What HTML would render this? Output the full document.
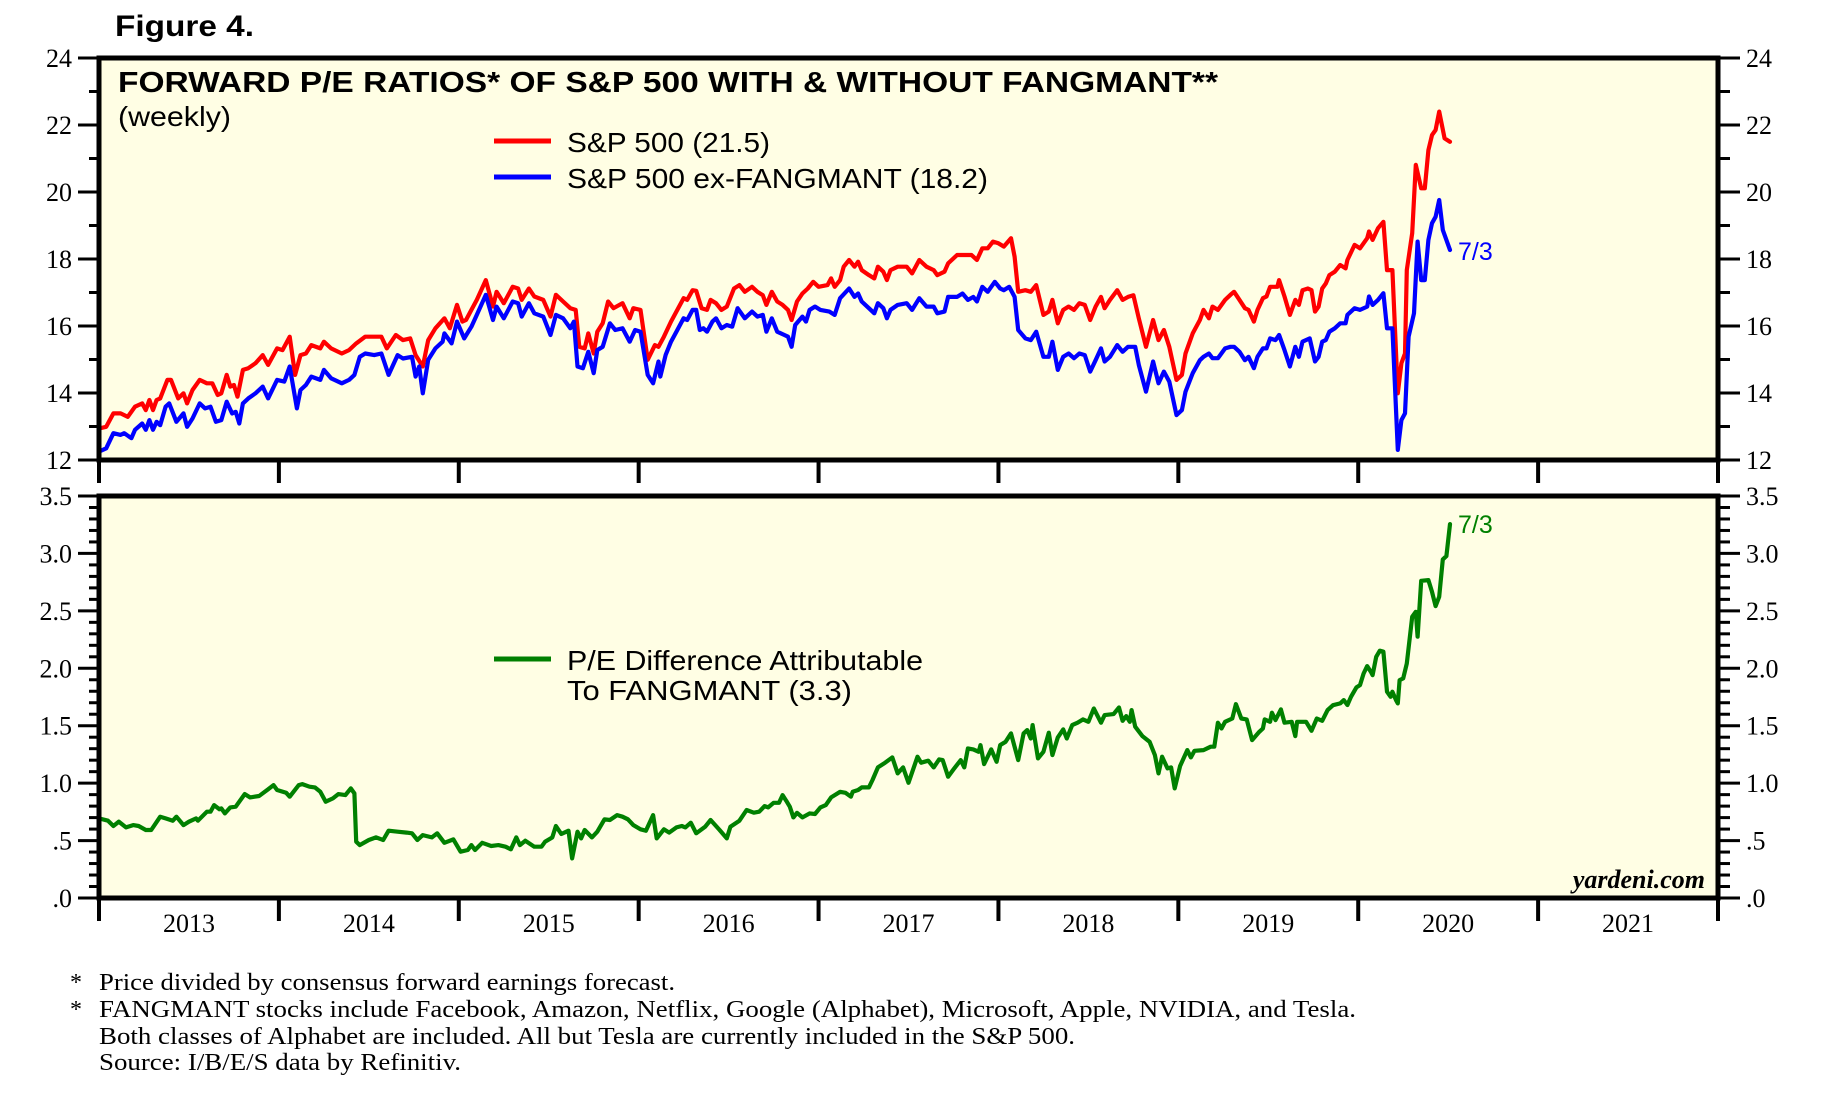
<!DOCTYPE html>
<html><head><meta charset="utf-8"><style>
html,body{margin:0;padding:0;background:#fff;}
svg{display:block;}
</style></head><body>
<svg id="chart" width="1822" height="1096" viewBox="0 0 1822 1096" xmlns="http://www.w3.org/2000/svg">
<text x="115" y="36" font-family="Liberation Sans, sans-serif" font-weight="bold" font-size="30" textLength="139" lengthAdjust="spacingAndGlyphs">Figure 4.</text>
<rect x="99" y="58" width="1619" height="402" fill="#FFFEE4"/>
<rect x="99" y="496" width="1619" height="402" fill="#FFFEE4"/>
<text x="118" y="92" font-family="Liberation Sans, sans-serif" font-weight="bold" font-size="29" textLength="1100" lengthAdjust="spacingAndGlyphs">FORWARD P/E RATIOS* OF S&amp;P 500 WITH &amp; WITHOUT FANGMANT**</text>
<text x="118" y="126" font-family="Liberation Sans, sans-serif" font-size="28" textLength="113" lengthAdjust="spacingAndGlyphs">(weekly)</text>
<line x1="494" y1="141" x2="551" y2="141" stroke="#FF0000" stroke-width="5"/>
<text x="567" y="152" font-family="Liberation Sans, sans-serif" font-size="28" textLength="203" lengthAdjust="spacingAndGlyphs">S&amp;P 500 (21.5)</text>
<line x1="494" y1="177" x2="551" y2="177" stroke="#0000FF" stroke-width="5"/>
<text x="567" y="188" font-family="Liberation Sans, sans-serif" font-size="28" textLength="421" lengthAdjust="spacingAndGlyphs">S&amp;P 500 ex-FANGMANT (18.2)</text>
<line x1="494" y1="659" x2="551" y2="659" stroke="#008000" stroke-width="5"/>
<text x="567" y="670" font-family="Liberation Sans, sans-serif" font-size="28" textLength="356" lengthAdjust="spacingAndGlyphs">P/E Difference Attributable</text>
<text x="567" y="700" font-family="Liberation Sans, sans-serif" font-size="28" textLength="285" lengthAdjust="spacingAndGlyphs">To FANGMANT (3.3)</text>
<text x="1458" y="260" font-family="Liberation Sans, sans-serif" font-size="25" fill="#0000FF">7/3</text>
<text x="1458" y="533" font-family="Liberation Sans, sans-serif" font-size="25" fill="#008000">7/3</text>
<text x="1705" y="888" text-anchor="end" font-family="Liberation Serif, serif" font-style="italic" font-weight="bold" font-size="26">yardeni.com</text>
<g id="series"></g>
<g id="axes"></g>
<g font-family="Liberation Serif, serif" font-size="24">
<text x="70" y="990">*</text>
<text x="99" y="990" textLength="576" lengthAdjust="spacingAndGlyphs">Price divided by consensus forward earnings forecast.</text>
<text x="70" y="1017">*</text>
<text x="99" y="1017" textLength="1257" lengthAdjust="spacingAndGlyphs">FANGMANT stocks include Facebook, Amazon, Netflix, Google (Alphabet), Microsoft, Apple, NVIDIA, and Tesla.</text>
<text x="99" y="1044" textLength="976" lengthAdjust="spacingAndGlyphs">Both classes of Alphabet are included. All but Tesla are currently included in the S&amp;P 500.</text>
<text x="99" y="1070" textLength="362" lengthAdjust="spacingAndGlyphs">Source: I/B/E/S data by Refinitiv.</text>
</g>
</svg>
<script>
const yearLabels = ["2013","2014","2015","2016","2017","2018","2019","2020","2021"];
const topTicks = [12,14,16,18,20,22,24];
const bottomTicks = [0,0.5,1,1.5,2,2.5,3,3.5];
const bottomTickLabels = [".0",".5","1.0","1.5","2.0","2.5","3.0","3.5"];

const redDates = [2013.00,2013.04,2013.08,2013.12,2013.16,2013.20,2013.24,2013.26,2013.28,2013.30,2013.32,2013.34,2013.38,2013.40,2013.44,2013.47,2013.49,2013.52,2013.56,2013.60,2013.63,2013.66,2013.68,2013.71,2013.73,2013.75,2013.77,2013.80,2013.83,2013.87,2013.91,2013.94,2013.99,2014.02,2014.06,2014.09,2014.12,2014.15,2014.18,2014.23,2014.25,2014.29,2014.35,2014.39,2014.43,2014.48,2014.53,2014.57,2014.60,2014.65,2014.69,2014.73,2014.76,2014.80,2014.83,2014.87,2014.92,2014.95,2014.99,2015.02,2015.04,2015.07,2015.10,2015.15,2015.19,2015.21,2015.25,2015.30,2015.33,2015.35,2015.39,2015.42,2015.47,2015.51,2015.54,2015.58,2015.62,2015.65,2015.67,2015.70,2015.72,2015.75,2015.77,2015.80,2015.83,2015.86,2015.91,2015.95,2015.97,2016.01,2016.05,2016.09,2016.11,
2016.14,2016.18,2016.22,2016.25,2016.27,2016.30,2016.32,2016.35,2016.38,2016.40,2016.43,2016.46,2016.49,2016.53,2016.56,2016.59,2016.63,2016.66,2016.69,2016.71,2016.74,2016.77,2016.80,2016.83,2016.85,2016.88,2016.91,2016.94,2016.97,2017.00,2017.05,2017.07,2017.09,2017.12,2017.14,2017.17,2017.20,2017.22,2017.24,2017.28,2017.31,2017.33,2017.36,2017.38,2017.40,2017.44,2017.49,2017.52,2017.56,2017.60,2017.64,2017.66,2017.70,2017.72,2017.77,2017.80,2017.85,2017.88,2017.91,2017.94,2017.97,2018.00,2018.03,2018.07,2018.09,2018.11,2018.15,2018.18,2018.21,2018.25,2018.28,2018.30,2018.33,2018.36,2018.39,2018.42,2018.45,2018.48,2018.51,2018.54,2018.57,2018.59,2018.62,2018.66,2018.69,2018.72,2018.75,2018.78,2018.82,2018.86,2018.89,2018.92,2018.95,2018.99,2019.02,2019.04,2019.08,2019.12,
2019.14,2019.17,2019.19,2019.22,2019.26,2019.29,2019.31,2019.34,2019.37,2019.39,2019.42,2019.44,2019.47,2019.49,2019.51,2019.55,2019.56,2019.59,2019.62,2019.65,2019.67,2019.69,2019.72,2019.74,2019.76,2019.78,2019.80,2019.82,2019.84,2019.87,2019.90,2019.93,2019.94,2019.98,2020.01,2020.05,2020.06,2020.08,2020.11,2020.14,2020.16,2020.19,2020.22,2020.24,2020.26,2020.27,2020.30,2020.32,2020.35,2020.37,2020.39,2020.41,2020.43,2020.45,2020.48,2020.51];
const redValues = [12.94,12.99,13.39,13.39,13.29,13.59,13.69,13.49,13.79,13.49,13.79,13.84,14.39,14.39,13.84,13.99,13.69,14.09,14.39,14.29,14.29,13.94,13.99,14.54,14.19,14.24,13.89,14.69,14.74,14.89,15.13,14.84,15.33,15.28,15.68,14.54,15.13,15.18,15.43,15.33,15.53,15.33,15.18,15.28,15.48,15.68,15.68,15.68,15.33,15.73,15.58,15.63,15.13,14.79,15.58,15.93,16.23,15.93,16.63,16.13,16.18,16.48,16.78,17.37,16.58,17.02,16.68,17.17,17.12,16.78,17.12,16.88,16.78,16.28,16.93,16.73,16.53,16.48,15.38,15.33,15.78,15.18,15.83,16.08,16.73,16.53,16.68,16.23,16.53,16.48,14.99,15.43,15.38,
15.68,16.13,16.53,16.83,16.78,17.07,17.05,16.53,16.48,16.78,16.68,16.48,16.58,17.12,17.22,17.02,17.17,17.02,16.92,16.63,17.02,16.73,16.63,16.48,16.18,16.73,16.97,17.12,17.32,17.17,17.22,17.42,17.17,17.37,17.77,17.97,17.77,17.92,17.67,17.52,17.42,17.77,17.62,17.37,17.67,17.77,17.77,17.57,17.97,17.77,17.67,17.52,17.62,17.87,18.12,18.12,18.12,17.97,18.32,18.32,18.52,18.47,18.37,18.62,18.07,17.02,17.07,17.02,17.22,16.33,16.43,16.78,16.08,16.48,16.58,16.48,16.68,16.63,16.18,16.58,16.87,16.53,16.78,17.07,16.78,16.87,16.92,16.23,15.38,16.18,15.58,15.88,15.38,14.39,14.54,15.18,15.78,16.18,
16.48,16.23,16.58,16.48,16.78,16.93,17.02,16.78,16.53,16.48,16.13,16.48,16.83,16.88,17.17,17.17,17.37,16.88,16.33,16.78,16.63,17.07,17.12,17.07,16.43,16.58,17.12,17.27,17.52,17.62,17.82,17.72,17.97,18.42,18.32,18.62,18.82,18.57,18.92,19.11,17.67,17.67,13.99,14.89,15.18,17.67,18.77,20.81,20.11,20.11,21.25,21.70,21.85,22.40,21.60,21.50];

const blueDates = [2013.00,2013.04,2013.08,2013.12,2013.14,2013.18,2013.20,2013.24,2013.26,2013.28,2013.30,2013.32,2013.34,2013.37,2013.39,2013.43,2013.47,2013.49,2013.52,2013.56,2013.59,2013.62,2013.65,2013.68,2013.71,2013.74,2013.76,2013.78,2013.80,2013.83,2013.87,2013.91,2013.94,2013.99,2014.03,2014.06,2014.10,2014.12,2014.15,2014.18,2014.23,2014.25,2014.29,2014.35,2014.39,2014.42,2014.45,2014.48,2014.53,2014.57,2014.61,2014.66,2014.69,2014.74,2014.76,2014.78,2014.80,2014.83,2014.87,2014.91,2014.92,2014.96,2014.99,2015.03,2015.07,2015.10,2015.15,2015.19,2015.21,2015.25,2015.30,2015.33,2015.35,2015.39,2015.42,2015.47,2015.51,2015.54,2015.58,2015.62,2015.64,2015.66,2015.69,2015.72,2015.75,2015.77,2015.80,2015.84,2015.87,2015.91,2015.95,2015.98,2016.01,2016.05,2016.08,2016.11,
2016.12,2016.15,2016.18,2016.21,2016.25,2016.27,2016.30,2016.32,2016.34,2016.36,2016.38,2016.41,2016.43,2016.46,2016.49,2016.52,2016.55,2016.59,2016.63,2016.66,2016.69,2016.71,2016.74,2016.77,2016.81,2016.83,2016.85,2016.87,2016.91,2016.93,2016.95,2016.98,2017.01,2017.06,2017.09,2017.12,2017.17,2017.20,2017.22,2017.24,2017.28,2017.31,2017.33,2017.36,2017.38,2017.40,2017.44,2017.49,2017.52,2017.56,2017.60,2017.64,2017.66,2017.70,2017.72,2017.77,2017.80,2017.83,2017.86,2017.88,2017.91,2017.94,2017.98,2018.01,2018.03,2018.06,2018.09,2018.11,2018.15,2018.18,2018.21,2018.25,2018.28,2018.30,2018.33,2018.36,2018.39,2018.42,2018.45,2018.48,2018.51,2018.54,2018.57,2018.59,2018.62,2018.66,2018.69,2018.72,2018.76,2018.78,2018.82,2018.86,2018.89,2018.92,2018.95,2018.99,2019.02,2019.04,2019.08,2019.12,
2019.14,2019.17,2019.19,2019.22,2019.26,2019.29,2019.31,2019.34,2019.37,2019.39,2019.42,2019.44,2019.47,2019.49,2019.51,2019.54,2019.56,2019.59,2019.62,2019.65,2019.67,2019.69,2019.73,2019.76,2019.78,2019.80,2019.82,2019.84,2019.87,2019.90,2019.93,2019.94,2019.98,2020.01,2020.05,2020.06,2020.08,2020.11,2020.14,2020.16,2020.19,2020.22,2020.24,2020.26,2020.28,2020.31,2020.33,2020.35,2020.37,2020.39,2020.41,2020.43,2020.45,2020.47,2020.51];
const blueValues = [12.25,12.35,12.80,12.75,12.80,12.65,12.90,13.09,12.90,13.19,12.90,13.14,13.04,13.59,13.69,13.14,13.39,12.99,13.24,13.69,13.54,13.59,13.14,13.19,13.74,13.39,13.44,13.09,13.69,13.84,13.99,14.19,13.84,14.39,14.34,14.79,13.54,14.09,14.24,14.49,14.39,14.69,14.44,14.29,14.39,14.54,15.08,15.18,15.13,15.18,14.54,15.13,15.03,15.08,14.49,14.79,13.99,14.99,15.33,15.53,15.78,15.48,16.13,15.63,15.98,16.33,16.93,16.18,16.58,16.23,16.73,16.68,16.28,16.68,16.38,16.28,15.73,16.33,16.23,15.93,16.13,14.79,14.74,15.23,14.59,15.28,15.38,16.08,15.88,15.93,15.53,15.88,15.83,14.54,14.29,14.94,
14.49,15.14,15.53,15.83,16.23,16.18,16.48,16.48,15.88,15.93,15.83,16.13,16.23,15.93,16.03,15.98,16.53,16.23,16.43,16.28,16.33,15.83,16.23,15.83,15.73,15.68,15.38,16.03,16.28,16.13,16.48,16.58,16.48,16.43,16.33,16.83,17.12,16.87,16.97,16.73,16.53,16.38,16.68,16.53,16.23,16.48,16.63,16.68,16.48,16.83,16.58,16.58,16.38,16.43,16.87,16.87,16.97,16.78,16.87,16.73,17.17,17.02,17.32,17.12,17.07,17.17,16.87,15.88,15.63,15.58,15.83,15.08,15.08,15.53,14.69,15.08,15.18,15.04,15.18,15.13,14.64,14.98,15.33,14.94,15.08,15.43,15.23,15.38,15.38,14.84,14.04,14.94,14.29,14.64,14.34,13.34,13.49,14.04,14.59,14.98,
15.08,15.18,15.04,15.04,15.33,15.38,15.38,15.23,14.98,15.08,14.74,15.08,15.33,15.33,15.63,15.58,15.73,15.28,14.79,15.38,15.08,15.53,15.63,14.94,15.08,15.53,15.58,15.83,15.93,16.08,16.08,16.33,16.53,16.48,16.58,16.88,16.63,16.78,16.98,15.93,15.93,12.30,13.19,13.39,15.68,16.38,18.52,17.37,17.37,18.57,19.07,19.26,19.76,18.87,18.27];

const diffDates = [2013.00,2013.05,2013.08,2013.11,2013.15,2013.19,2013.22,2013.26,2013.29,2013.34,2013.37,2013.41,2013.43,2013.47,2013.50,2013.54,2013.55,2013.60,2013.62,2013.64,2013.67,2013.68,2013.70,2013.73,2013.76,2013.81,2013.84,2013.89,2013.94,2013.97,2013.99,2014.04,2014.06,2014.11,2014.13,2014.17,2014.20,2014.23,2014.26,2014.30,2014.33,2014.37,2014.40,2014.42,2014.43,2014.45,2014.50,2014.54,2014.58,2014.61,2014.66,2014.71,2014.74,2014.77,2014.80,2014.85,2014.88,2014.92,2014.97,2015.01,2015.05,2015.07,2015.09,2015.13,2015.18,2015.22,2015.26,2015.29,2015.32,2015.34,2015.37,2015.42,2015.46,2015.48,2015.52,2015.54,2015.57,2015.61,2015.63,2015.66,2015.68,2015.70,2015.74,2015.77,2015.81,2015.84,2015.88,2015.91,2015.94,2015.97,2016.01,2016.04,2016.08,2016.10,2016.14,2016.17,2016.21,2016.24,2016.26,2016.29,2016.32,2016.37,2016.40,2016.45,2016.49,2016.51,2016.56,2016.60,2016.64,2016.67,
2016.70,2016.72,2016.75,2016.78,2016.80,2016.82,2016.84,2016.86,2016.88,2016.91,2016.95,2016.98,2017.01,2017.04,2017.07,2017.12,2017.15,2017.18,2017.19,2017.22,2017.24,2017.28,2017.30,2017.33,2017.37,2017.41,2017.44,2017.47,2017.50,2017.55,2017.57,2017.61,2017.64,2017.67,2017.69,2017.72,2017.75,2017.79,2017.81,2017.83,2017.86,2017.89,2017.90,2017.92,2017.96,2017.99,2018.01,2018.04,2018.07,2018.11,2018.14,2018.16,2018.18,2018.19,2018.22,2018.25,2018.28,2018.30,2018.33,2018.36,2018.38,2018.41,2018.44,2018.47,2018.50,2018.53,2018.57,2018.59,2018.64,2018.67,2018.69,2018.71,2018.73,2018.74,2018.76,2018.80,2018.84,2018.87,2018.89,2018.91,2018.94,2018.96,2018.98,2019.01,2019.05,2019.07,2019.09,2019.14,2019.18,2019.20,2019.22,2019.24,2019.26,2019.30,2019.32,2019.35,2019.38,2019.41,2019.45,2019.47,2019.48,2019.51,2019.52,2019.54,2019.57,2019.59,2019.63,2019.65,2019.66,2019.71,2019.74,2019.77,2019.80,2019.83,2019.86,2019.90,
2019.92,2019.94,2019.96,2019.99,2020.01,2020.03,2020.05,2020.07,2020.08,2020.10,2020.12,2020.14,2020.16,2020.18,2020.19,2020.21,2020.22,2020.23,2020.25,2020.27,2020.30,2020.32,2020.33,2020.35,2020.39,2020.41,2020.43,2020.45,2020.47,2020.49,2020.51];
const diffValues = [0.693,0.673,0.627,0.664,0.615,0.635,0.627,0.592,0.592,0.708,0.693,0.673,0.708,0.635,0.664,0.693,0.673,0.751,0.751,0.809,0.772,0.780,0.737,0.789,0.795,0.905,0.876,0.888,0.946,0.983,0.940,0.917,0.882,0.983,0.992,0.969,0.963,0.925,0.838,0.867,0.905,0.896,0.954,0.911,0.490,0.461,0.505,0.528,0.505,0.586,0.577,0.569,0.563,0.505,0.548,0.528,0.563,0.481,0.510,0.403,0.418,0.461,0.418,0.481,0.453,0.461,0.447,0.424,0.528,0.461,0.499,0.447,0.447,0.490,0.528,0.627,0.557,0.586,0.345,0.577,0.519,0.592,0.528,0.577,0.685,0.679,0.722,0.708,0.685,0.635,0.598,0.586,0.722,0.519,0.598,0.569,0.615,0.627,0.615,0.656,0.563,0.621,0.679,0.592,0.519,0.621,0.673,0.766,0.743,0.751,
0.800,0.789,0.829,0.829,0.896,0.847,0.795,0.702,0.742,0.702,0.737,0.731,0.789,0.809,0.876,0.925,0.916,0.882,0.925,0.940,0.963,0.963,1.027,1.137,1.178,1.224,1.085,1.137,1.003,1.230,1.178,1.195,1.137,1.207,1.201,1.056,1.120,1.201,1.137,1.302,1.294,1.273,1.331,1.166,1.294,1.186,1.331,1.360,1.433,1.201,1.433,1.462,1.389,1.505,1.215,1.273,1.439,1.244,1.398,1.468,1.389,1.505,1.526,1.555,1.534,1.650,1.526,1.592,1.601,1.659,1.543,1.584,1.534,1.636,1.491,1.410,1.360,1.244,1.085,1.230,1.128,1.137,0.954,1.149,1.288,1.224,1.282,1.288,1.317,1.317,1.526,1.476,1.534,1.563,1.688,1.563,1.555,1.375,1.447,1.476,1.555,1.534,1.613,1.549,1.642,1.526,1.534,1.410,1.534,1.534,1.456,1.563,1.543,1.636,1.679,1.694,
1.723,1.680,1.752,1.834,1.854,1.955,2.019,1.970,1.941,2.100,2.153,2.144,1.796,1.752,1.796,1.723,1.694,1.897,1.912,2.042,2.449,2.492,2.275,2.762,2.768,2.666,2.541,2.623,2.948,2.977,3.255];

const NS = "http://www.w3.org/2000/svg";
const L = 99, R = 1718, T1 = 58, B1 = 460, T2 = 496, B2 = 898;
const xScale = t => L + (t - 2013) * (R - L) / 9;
const yTop = v => B1 - (v - 12) * (B1 - T1) / 12;
const yBot = v => B2 - v * (B2 - T2) / 3.5;

function mk(tag, attrs, parent) {
  const el = document.createElementNS(NS, tag);
  for (const k in attrs) el.setAttribute(k, attrs[k]);
  parent.appendChild(el);
  return el;
}
const series = document.getElementById('series');
const axes = document.getElementById('axes');

function drawLine(dates, vals, yf, color, name) {
  let d = '';
  for (let i = 0; i < dates.length; i++) d += (i ? 'L' : 'M') + xScale(dates[i]).toFixed(1) + ',' + yf(vals[i]).toFixed(1);
  const p = mk('path', {d: d, fill: 'none', stroke: color, 'stroke-width': 4.2, 'stroke-linejoin': 'round', 'stroke-linecap': 'round'}, series);
  
  
}
drawLine(redDates, redValues, yTop, '#FF0000', 'sp500-line');
drawLine(blueDates, blueValues, yTop, '#0000FF', 'sp500-ex-fangmant-line');
drawLine(diffDates, diffValues, yBot, '#008000', 'pe-difference-line');

const tf = 'Liberation Serif, serif';
function txt(x, y, s, anchor, name) {
  const t = mk('text', {x: x, y: y, 'text-anchor': anchor, 'font-family': tf, 'font-size': 26}, axes);
  t.textContent = s;
  
  
}
for (let v = 12; v <= 24; v++) {
  const y = yTop(v);
  const major = v % 2 === 0;
  mk('line', {x1: L - (major ? 21 : 10), x2: L, y1: y, y2: y, stroke: '#000', 'stroke-width': 3}, axes);
  mk('line', {x1: R, x2: R + (major ? 22 : 12), y1: y, y2: y, stroke: '#000', 'stroke-width': 3}, axes);
}
topTicks.forEach(v => {
  txt(72, yTop(v) + 9, String(v), 'end', 'y-tick-left-' + v);
  txt(1746, yTop(v) + 9, String(v), 'start', 'y-tick-right-' + v);
});
for (let i = 0; i <= 35; i++) {
  const v = i / 10, y = yBot(v);
  const major = i % 5 === 0;
  mk('line', {x1: L - (major ? 21 : 10), x2: L, y1: y, y2: y, stroke: '#000', 'stroke-width': 3}, axes);
  mk('line', {x1: R, x2: R + (major ? 22 : 12), y1: y, y2: y, stroke: '#000', 'stroke-width': 3}, axes);
}
bottomTicks.forEach((v, i) => {
  txt(72, yBot(v) + 9, bottomTickLabels[i], 'end', 'y2-tick-left-' + i);
  txt(1746, yBot(v) + 9, bottomTickLabels[i], 'start', 'y2-tick-right-' + i);
});
for (let k = 0; k <= 9; k++) {
  const x = xScale(2013 + k);
  mk('line', {x1: x, x2: x, y1: B1, y2: B1 + 23, stroke: '#000', 'stroke-width': 4}, axes);
  mk('line', {x1: x, x2: x, y1: B2, y2: B2 + 23, stroke: '#000', 'stroke-width': 4}, axes);
}
yearLabels.forEach((s, i) => txt(xScale(2013.5 + i), 932, s, 'middle', 'x-label-' + s));
[[T1, B1, 'top-panel-border'], [T2, B2, 'bottom-panel-border']].forEach(b => {
  const r = mk('rect', {x: L, y: b[0], width: R - L, height: b[1] - b[0], fill: 'none', stroke: '#000', 'stroke-width': 5}, axes);
  
  
});
</script>
</body></html>
